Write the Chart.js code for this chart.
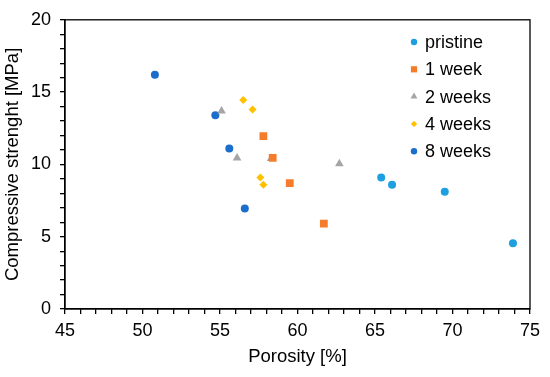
<!DOCTYPE html>
<html>
<head>
<meta charset="utf-8">
<script src="https://cdn.jsdelivr.net/npm/chart.js@4/dist/chart.umd.min.js"></script>
<style>
  html, body { margin: 0; padding: 0; background: #fff; }
  #wrap { width: 550px; height: 377px; }
</style>
</head>
<body>
<div id="wrap"><canvas id="porosityChart" width="550" height="377"></canvas></div>
<script>
// series names
const seriesNames = ['pristine', '1 week', '2 weeks', '4 weeks', '8 weeks'];

// porosity [%] per series
const pristineX = [65.4, 66.1, 69.5, 73.9];
const week1X = [57.8, 58.4, 59.5, 61.7];
const week2X = [55.1, 56.1, 58.3, 62.7];
const week4X = [56.5, 57.1, 57.6, 57.8];
const week8X = [50.8, 54.7, 55.6, 56.6];

// compressive strength [MPa] per series
const pristineY = [9.1, 8.6, 8.1, 4.55];
const week1Y = [11.95, 10.45, 8.7, 5.9];
const week2Y = [13.7, 10.45, 10.4, 10.05];
const week4Y = [14.45, 13.8, 9.1, 8.6];
const week8Y = [16.2, 13.4, 11.1, 6.95];

// axis tick labels
const xTickLabels = [45, 50, 55, 60, 65, 70, 75];
const yTickLabels = [0, 5, 10, 15, 20];

const FONT = "'Liberation Sans', Arial, sans-serif";

function toPoints(xs, ys) {
    return xs.map((x, i) => ({ x: x, y: ys[i] }));
}

const seriesStyles = [
    { color: '#1E9FE0', style: 'circle', radius: 4 },
    { color: '#F57C2B', style: 'rect', radius: 5.5 },
    { color: '#A5A5A5', style: 'triangle', radius: 5 },
    { color: '#FFC000', style: 'rectRot', radius: 4 },
    { color: '#1B6ECB', style: 'circle', radius: 4 }
];
const seriesX = [pristineX, week1X, week2X, week4X, week8X];
const seriesY = [pristineY, week1Y, week2Y, week4Y, week8Y];

const datasets = seriesNames.map((name, i) => ({
    label: name,
    data: toPoints(seriesX[i], seriesY[i]),
    pointStyle: seriesStyles[i].style,
    pointRadius: seriesStyles[i].radius,
    pointBackgroundColor: seriesStyles[i].color,
    pointBorderColor: seriesStyles[i].color,
    pointBorderWidth: 0,
    showLine: false
}));

// frame round the plot area + legend inside it
const framePlugin = {
    id: 'frame',
    afterDraw(chart) {
        const ctx = chart.ctx;
        const a = chart.chartArea;
        ctx.save();
        ctx.strokeStyle = '#000';
        ctx.lineWidth = 1.3;
        ctx.strokeRect(a.left, a.top, a.right - a.left, a.bottom - a.top);

        // legend
        ctx.font = '18px ' + FONT;
        ctx.textBaseline = 'middle';
        ctx.fillStyle = '#000';
        chart.data.datasets.forEach((ds, i) => {
            const y = 42 + i * 27.3;
            ctx.fillStyle = ds.pointBackgroundColor;
            ctx.strokeStyle = ds.pointBackgroundColor;
            Chart.helpers.drawPoint(ctx, { pointStyle: ds.pointStyle, radius: ds.pointRadius * 0.8, borderWidth: 0 }, 414, y);
            ctx.fillStyle = '#000';
            ctx.fillText(ds.label, 425, y + 1);
        });
        ctx.restore();
    }
};

const tickFont = { family: FONT, size: 18 };

new Chart(document.getElementById('porosityChart').getContext('2d'), {
    type: 'scatter',
    data: { datasets: datasets },
    options: {
        responsive: false,
        animation: false,
        layout: { padding: { top: 16, right: 20, left: 0, bottom: 0 } },
        plugins: {
            legend: { display: false },
            tooltip: { enabled: false }
        },
        scales: {
            x: {
                type: 'linear',
                min: xTickLabels[0],
                max: xTickLabels[xTickLabels.length - 1],
                afterFit: (scale) => { scale.height = 68; },
                ticks: {
                    stepSize: 1,
                    autoSkip: false,
                    maxRotation: 0,
                    padding: 6,
                    color: '#000',
                    font: tickFont,
                    callback: (v) => xTickLabels.includes(v) ? String(v) : ''
                },
                grid: {
                    drawOnChartArea: false,
                    drawTicks: true,
                    tickLength: 5,
                    color: '#000',
                    lineWidth: 1.3
                },
                border: { color: '#000', width: 1.3 },
                title: {
                    display: true,
                    text: 'Porosity [%]',
                    color: '#000',
                    font: { family: FONT, size: 18.5 },
                    padding: { top: 4, bottom: 9 }
                }
            },
            y: {
                type: 'linear',
                min: yTickLabels[0],
                max: yTickLabels[yTickLabels.length - 1],
                afterFit: (scale) => { scale.width = 65; },
                ticks: {
                    stepSize: 1,
                    autoSkip: false,
                    padding: 9,
                    color: '#000',
                    font: tickFont,
                    callback: (v) => yTickLabels.includes(v) ? String(v) : ''
                },
                grid: {
                    drawOnChartArea: false,
                    drawTicks: true,
                    tickLength: 5,
                    color: '#000',
                    lineWidth: 1.3
                },
                border: { color: '#000', width: 1.3 },
                title: {
                    display: true,
                    text: 'Compressive strenght [MPa]',
                    color: '#000',
                    font: { family: FONT, size: 18.5 },
                    padding: { top: 2, bottom: 0 }
                }
            }
        }
    },
    plugins: [framePlugin]
});
</script>
</body>
</html>
